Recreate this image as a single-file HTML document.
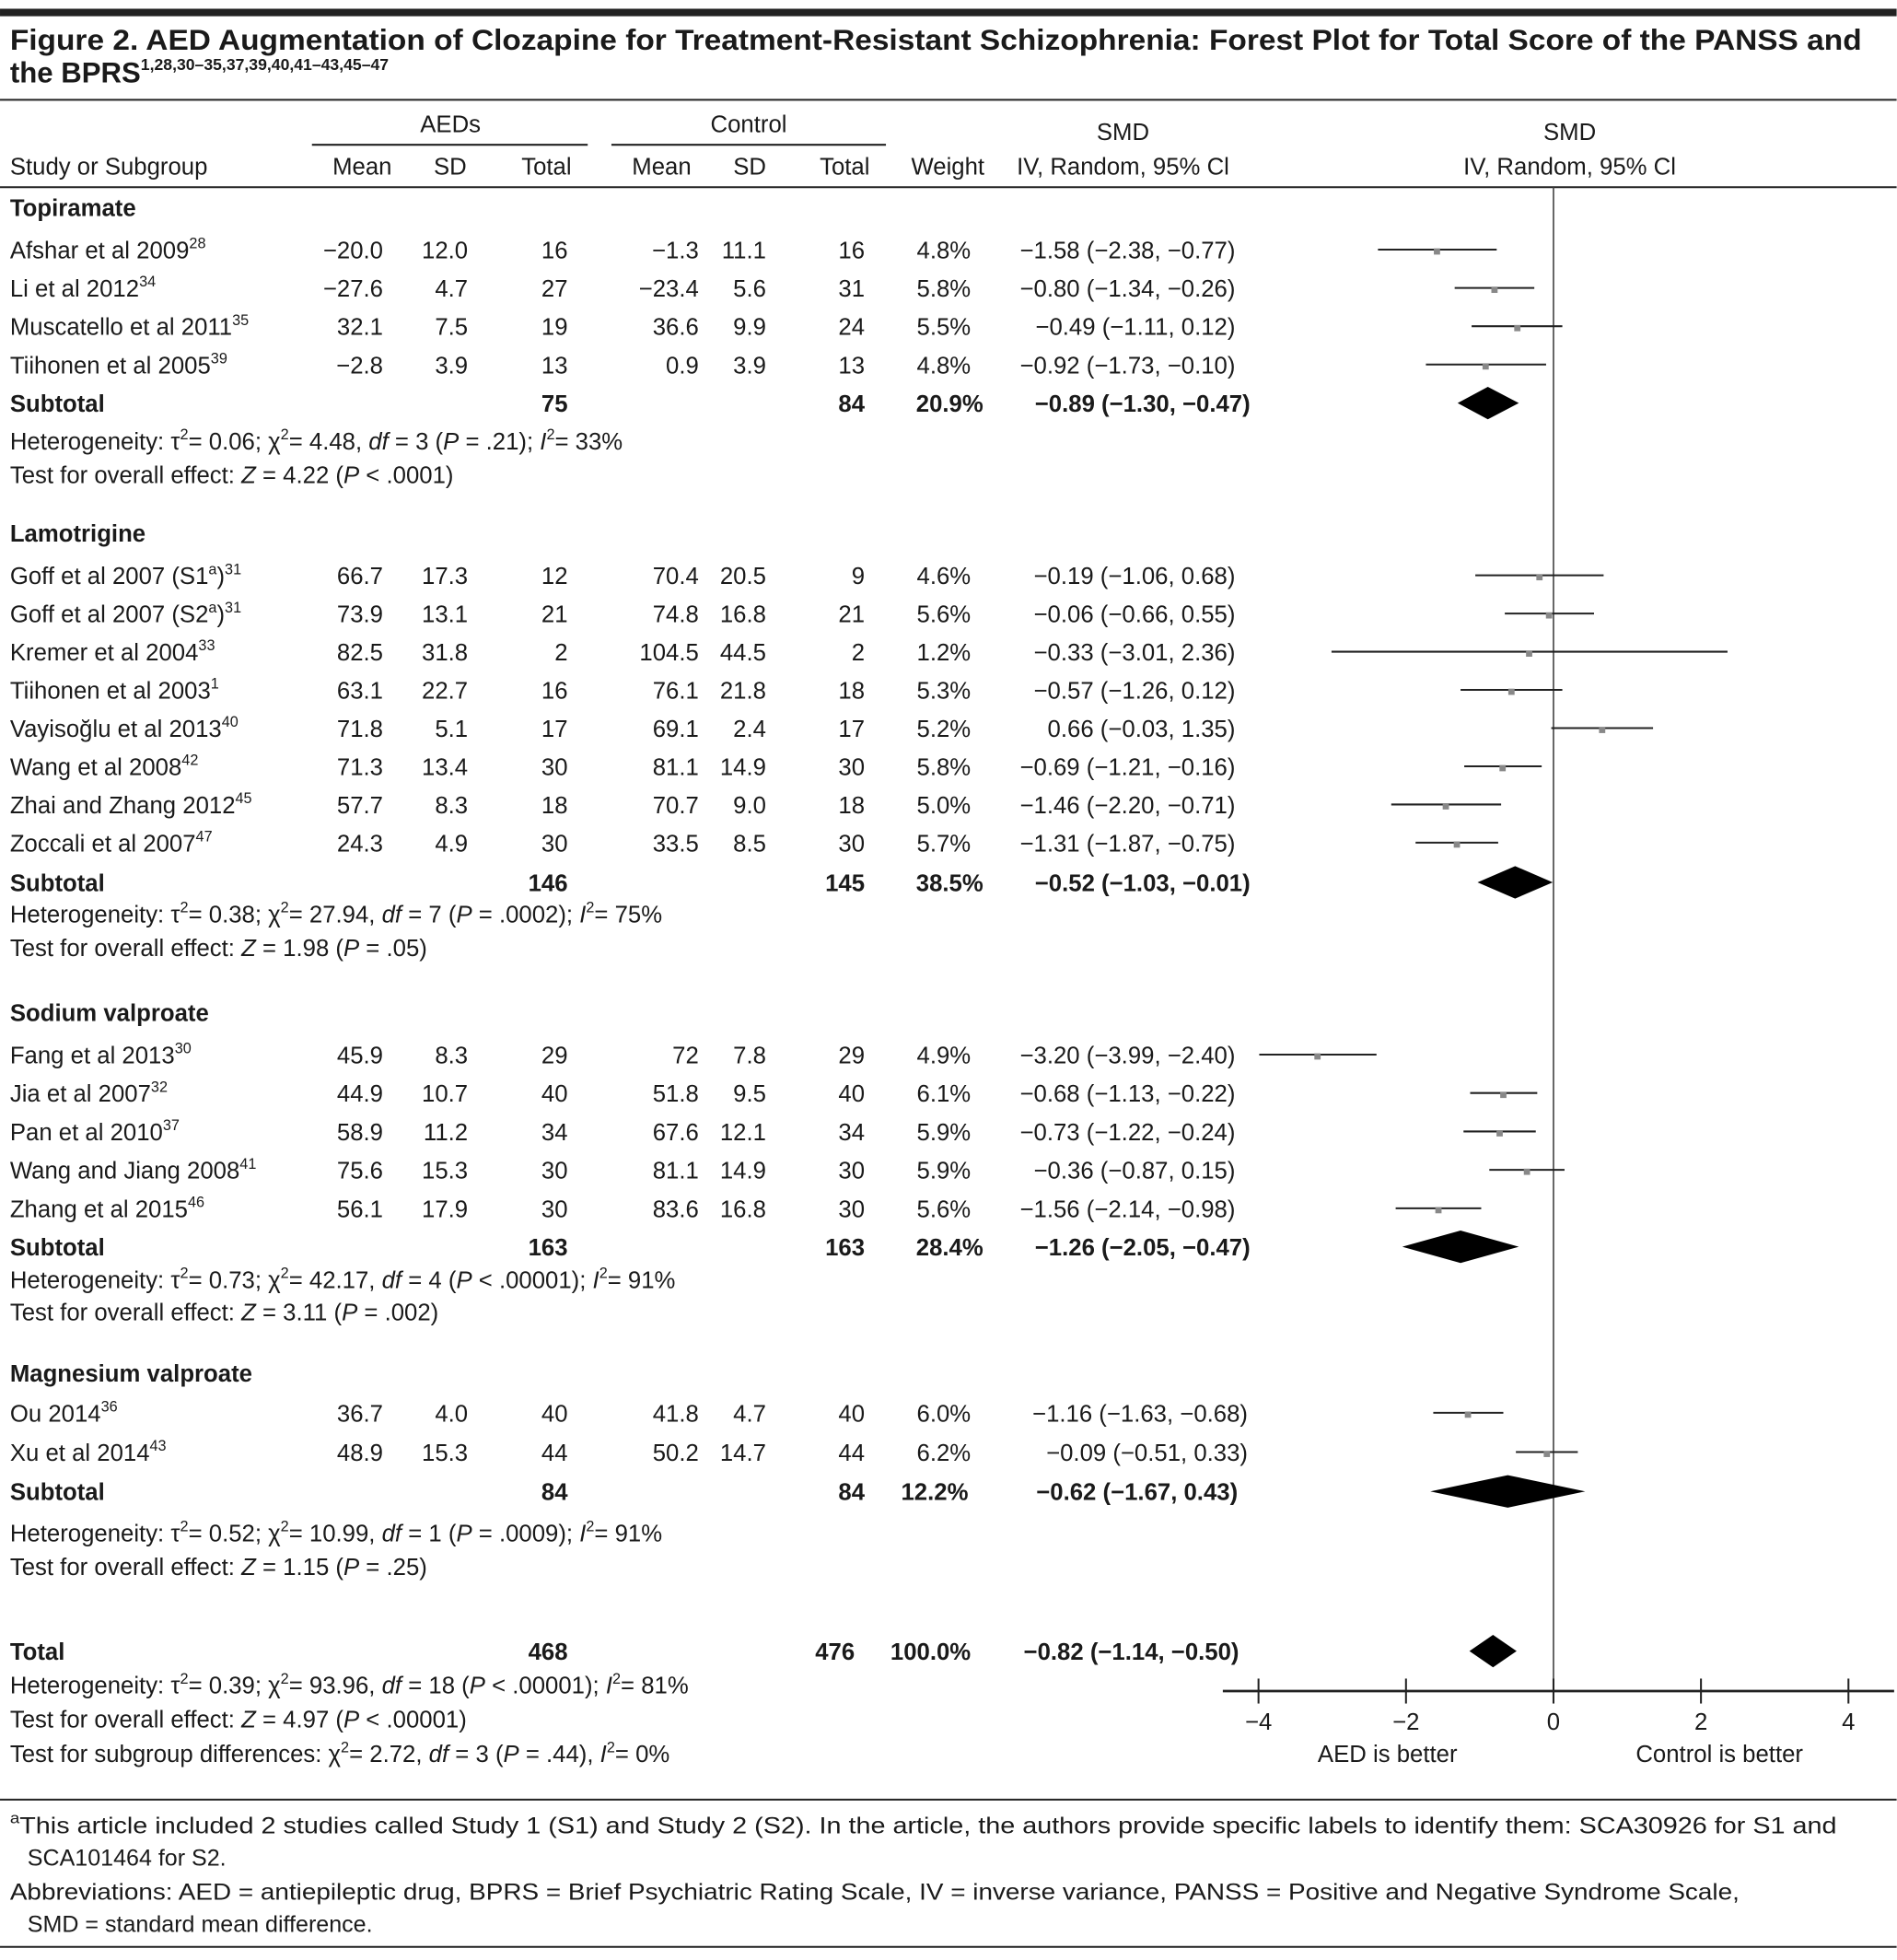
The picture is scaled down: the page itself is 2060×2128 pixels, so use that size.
<!DOCTYPE html>
<html><head><meta charset="utf-8"><style>
html,body{margin:0;padding:0;background:#fff}
svg{display:block}
text{font-family:"Liberation Sans",sans-serif;fill:#1a1a1a}
.b{font-weight:bold}
</style></head><body>
<svg id="fig" width="2060" height="2128" viewBox="0 0 1520.3 1570.5" xmlns="http://www.w3.org/2000/svg">
<rect x="0" y="7" width="1520" height="6" fill="#222"/>
<text class="b" x="8" y="40" font-size="23" textLength="1484" lengthAdjust="spacingAndGlyphs">Figure 2. AED Augmentation of Clozapine for Treatment-Resistant Schizophrenia: Forest Plot for Total Score of the PANSS and</text>
<text class="b" x="8" y="66" font-size="23">the BPRS<tspan font-size="13" dy="-10">1,28,30–35,37,39,40,41–43,45–47</tspan></text>
<line x1="0" y1="80" x2="1520" y2="80" stroke="#222" stroke-width="1.5"/>
<g font-size="19">
<text x="361" y="106" text-anchor="middle">AEDs</text>
<text x="600" y="106" text-anchor="middle">Control</text>
<line x1="250" y1="116" x2="471" y2="116" stroke="#222" stroke-width="1.5"/>
<line x1="490" y1="116" x2="710" y2="116" stroke="#222" stroke-width="1.5"/>
<text x="900" y="112" text-anchor="middle">SMD</text>
<text x="1258" y="112" text-anchor="middle">SMD</text>
<text x="8" y="140">Study or Subgroup</text>
<text x="314" y="140" text-anchor="end">Mean</text>
<text x="374" y="140" text-anchor="end">SD</text>
<text x="458" y="140" text-anchor="end">Total</text>
<text x="554" y="140" text-anchor="end">Mean</text>
<text x="614" y="140" text-anchor="end">SD</text>
<text x="697" y="140" text-anchor="end">Total</text>
<text x="789" y="140" text-anchor="end">Weight</text>
<text x="900" y="140" text-anchor="middle">IV, Random, 95% Cl</text>
<text x="1258" y="140" text-anchor="middle">IV, Random, 95% Cl</text>
</g>
<line x1="0" y1="150" x2="1520" y2="150" stroke="#222" stroke-width="1.5"/>
<g id="rows" font-size="19"></g>
<g id="plot"></g>
<g font-size="19">
<text x="8" y="360">Heterogeneity: τ<tspan font-size="12" dy="-8">2</tspan><tspan dy="8">= 0.06; χ</tspan><tspan font-size="12" dy="-8">2</tspan><tspan dy="8">= 4.48, </tspan><tspan font-style="italic">df</tspan> = 3 (<tspan font-style="italic">P</tspan> = .21); <tspan font-style="italic">I</tspan><tspan font-size="12" dy="-8">2</tspan><tspan dy="8">= 33%</tspan></text>
<text x="8" y="387">Test for overall effect: <tspan font-style="italic">Z</tspan> = 4.22 (<tspan font-style="italic">P</tspan> &lt; .0001)</text>
<text x="8" y="739">Heterogeneity: τ<tspan font-size="12" dy="-8">2</tspan><tspan dy="8">= 0.38; χ</tspan><tspan font-size="12" dy="-8">2</tspan><tspan dy="8">= 27.94, </tspan><tspan font-style="italic">df</tspan> = 7 (<tspan font-style="italic">P</tspan> = .0002); <tspan font-style="italic">I</tspan><tspan font-size="12" dy="-8">2</tspan><tspan dy="8">= 75%</tspan></text>
<text x="8" y="766">Test for overall effect: <tspan font-style="italic">Z</tspan> = 1.98 (<tspan font-style="italic">P</tspan> = .05)</text>
<text x="8" y="1032">Heterogeneity: τ<tspan font-size="12" dy="-8">2</tspan><tspan dy="8">= 0.73; χ</tspan><tspan font-size="12" dy="-8">2</tspan><tspan dy="8">= 42.17, </tspan><tspan font-style="italic">df</tspan> = 4 (<tspan font-style="italic">P</tspan> &lt; .00001); <tspan font-style="italic">I</tspan><tspan font-size="12" dy="-8">2</tspan><tspan dy="8">= 91%</tspan></text>
<text x="8" y="1058">Test for overall effect: <tspan font-style="italic">Z</tspan> = 3.11 (<tspan font-style="italic">P</tspan> = .002)</text>
<text x="8" y="1235">Heterogeneity: τ<tspan font-size="12" dy="-8">2</tspan><tspan dy="8">= 0.52; χ</tspan><tspan font-size="12" dy="-8">2</tspan><tspan dy="8">= 10.99, </tspan><tspan font-style="italic">df</tspan> = 1 (<tspan font-style="italic">P</tspan> = .0009); <tspan font-style="italic">I</tspan><tspan font-size="12" dy="-8">2</tspan><tspan dy="8">= 91%</tspan></text>
<text x="8" y="1262">Test for overall effect: <tspan font-style="italic">Z</tspan> = 1.15 (<tspan font-style="italic">P</tspan> = .25)</text>
<text x="8" y="1357">Heterogeneity: τ<tspan font-size="12" dy="-8">2</tspan><tspan dy="8">= 0.39; χ</tspan><tspan font-size="12" dy="-8">2</tspan><tspan dy="8">= 93.96, </tspan><tspan font-style="italic">df</tspan> = 18 (<tspan font-style="italic">P</tspan> &lt; .00001); <tspan font-style="italic">I</tspan><tspan font-size="12" dy="-8">2</tspan><tspan dy="8">= 81%</tspan></text>
<text x="8" y="1384">Test for overall effect: <tspan font-style="italic">Z</tspan> = 4.97 (<tspan font-style="italic">P</tspan> &lt; .00001)</text>
<text x="8" y="1412">Test for subgroup differences: χ<tspan font-size="12" dy="-8">2</tspan><tspan dy="8">= 2.72, </tspan><tspan font-style="italic">df</tspan> = 3 (<tspan font-style="italic">P</tspan> = .44), <tspan font-style="italic">I</tspan><tspan font-size="12" dy="-8">2</tspan><tspan dy="8">= 0%</tspan></text>
</g>
<line x1="0" y1="1442" x2="1520" y2="1442" stroke="#222" stroke-width="1.5"/>
<g font-size="18.5">
<text x="8" y="1469" textLength="1464" lengthAdjust="spacingAndGlyphs"><tspan font-size="12" dy="-8">a</tspan><tspan dy="8">This article included 2 studies called Study 1 (S1) and Study 2 (S2). In the article, the authors provide specific labels to identify them: SCA30926 for S1 and</tspan></text>
<text x="22" y="1495">SCA101464 for S2.</text>
<text x="8" y="1522" textLength="1386" lengthAdjust="spacingAndGlyphs">Abbreviations: AED = antiepileptic drug, BPRS = Brief Psychiatric Rating Scale, IV = inverse variance, PANSS = Positive and Negative Syndrome Scale,</text>
<text x="22" y="1548">SMD = standard mean difference.</text>
</g>
<line x1="0" y1="1560" x2="1520" y2="1560" stroke="#222" stroke-width="1.5"/>
</svg>
<script>
// ---- data ----
const groups = ["Topiramate","Lamotrigine","Sodium valproate","Magnesium valproate"];
const studyNames = ["Afshar et al 2009","Li et al 2012","Muscatello et al 2011","Tiihonen et al 2005",
 "Goff et al 2007 (S1","Goff et al 2007 (S2","Kremer et al 2004","Tiihonen et al 2003","Vayisoğlu et al 2013","Wang et al 2008","Zhai and Zhang 2012","Zoccali et al 2007",
 "Fang et al 2013","Jia et al 2007","Pan et al 2010","Wang and Jiang 2008","Zhang et al 2015",
 "Ou 2014","Xu et al 2014"];
const studyNote = ["","","","","a","a","","","","","","","","","","","","",""];
const studyRefs = ["28","34","35","39","31","31","33","1","40","42","45","47","30","32","37","41","46","36","43"];
const studyGroup = [0,0,0,0,1,1,1,1,1,1,1,1,2,2,2,2,2,3,3];
const aedMean = ["−20.0","−27.6","32.1","−2.8","66.7","73.9","82.5","63.1","71.8","71.3","57.7","24.3","45.9","44.9","58.9","75.6","56.1","36.7","48.9"];
const aedSD = ["12.0","4.7","7.5","3.9","17.3","13.1","31.8","22.7","5.1","13.4","8.3","4.9","8.3","10.7","11.2","15.3","17.9","4.0","15.3"];
const aedN = [16,27,19,13,12,21,2,16,17,30,18,30,29,40,34,30,30,40,44];
const ctlMean = ["−1.3","−23.4","36.6","0.9","70.4","74.8","104.5","76.1","69.1","81.1","70.7","33.5","72","51.8","67.6","81.1","83.6","41.8","50.2"];
const ctlSD = ["11.1","5.6","9.9","3.9","20.5","16.8","44.5","21.8","2.4","14.9","9.0","8.5","7.8","9.5","12.1","14.9","16.8","4.7","14.7"];
const ctlN = [16,31,24,13,9,21,2,18,17,30,18,30,29,40,34,30,30,40,44];
const weight = [4.8,5.8,5.5,4.8,4.6,5.6,1.2,5.3,5.2,5.8,5.0,5.7,4.9,6.1,5.9,5.9,5.6,6.0,6.2];
const smd = [-1.58,-0.80,-0.49,-0.92,-0.19,-0.06,-0.33,-0.57,0.66,-0.69,-1.46,-1.31,-3.20,-0.68,-0.73,-0.36,-1.56,-1.16,-0.09];
const ciLo = [-2.38,-1.34,-1.11,-1.73,-1.06,-0.66,-3.01,-1.26,-0.03,-1.21,-2.20,-1.87,-3.99,-1.13,-1.22,-0.87,-2.14,-1.63,-0.51];
const ciHi = [-0.77,-0.26,0.12,-0.10,0.68,0.55,2.36,0.12,1.35,-0.16,-0.71,-0.75,-2.40,-0.22,-0.24,0.15,-0.98,-0.68,0.33];
const subAedN = [75,146,163,84];
const subCtlN = [84,145,163,84];
const subWeight = [20.9,38.5,28.4,12.2];
const subSmd = [-0.89,-0.52,-1.26,-0.62];
const subLo = [-1.30,-1.03,-2.05,-1.67];
const subHi = [-0.47,-0.01,-0.47,0.43];
const totAedN = 468, totCtlN = 476, totSmd = -0.82, totLo = -1.14, totHi = -0.50;
const ticks = [-4,-2,0,2,4];

// ---- layout ----
const NS="http://www.w3.org/2000/svg";
const rowsG=document.getElementById('rows'), plotG=document.getElementById('plot');
const x = v => 1245 + v*59.1;
const groupY=[173,434,818,1107];
const firstStudyY=[207,468,852,1139];
const subY=[330,714,1006,1202];
const rowH=[30.7,30.6,30.8,31.5];
const totalY=1330, axisY=1355;
function mk(tag,attrs,parent,txt){const e=document.createElementNS(NS,tag);for(const k in attrs)e.setAttribute(k,attrs[k]);if(txt!==undefined)e.textContent=txt;parent.appendChild(e);return e;}
function fmt(v){return (v<0?'−':'')+Math.abs(v).toFixed(2);}
function ciText(e,l,h){return fmt(e)+' ('+fmt(l)+', '+fmt(h)+')';}

const zl=mk('line',{x1:x(0),y1:150,x2:x(0),y2:axisY,stroke:'#444','stroke-width':1.2},plotG);



groups.forEach((g,gi)=>{
  const t=mk('text',{x:8,y:groupY[gi],class:'b'},rowsG,g);
  
  
});
let counters=[0,0,0,0];
studyNames.forEach((n,i)=>{
  const gi=studyGroup[i]; const y=firstStudyY[gi]+rowH[gi]*counters[gi]; counters[gi]++;
  const row=mk('g',{},rowsG);
  
  
  const nt=mk('text',{x:8,y:y},row,n);
  if(studyNote[i]){
    mk('tspan',{'font-size':12,dy:-8},nt,studyNote[i]);
    mk('tspan',{dy:8},nt,')');
  }
  mk('tspan',{'font-size':12,dy:-8},nt,studyRefs[i]);
  mk('text',{x:307,y:y,'text-anchor':'end'},row,aedMean[i]);
  mk('text',{x:375,y:y,'text-anchor':'end'},row,aedSD[i]);
  mk('text',{x:455,y:y,'text-anchor':'end'},row,aedN[i]);
  mk('text',{x:560,y:y,'text-anchor':'end'},row,ctlMean[i]);
  mk('text',{x:614,y:y,'text-anchor':'end'},row,ctlSD[i]);
  mk('text',{x:693,y:y,'text-anchor':'end'},row,ctlN[i]);
  mk('text',{x:778,y:y,'text-anchor':'end'},row,weight[i].toFixed(1)+'%');
  mk('text',{x:gi===3?1000:990,y:y,'text-anchor':'end'},row,ciText(smd[i],ciLo[i],ciHi[i]));
  const py=y-7;
  const ln=mk('line',{x1:x(ciLo[i]),y1:py,x2:x(ciHi[i]),y2:py,stroke:'#222','stroke-width':1.5},plotG);
  
  
  const sq=mk('rect',{x:x(smd[i])-2.5,y:py-1,width:5,height:5,fill:'#888'},plotG);
  
  
});
function diamond(e,l,h,y,name){
  const d=mk('polygon',{points:`${x(l)},${y} ${x(e)},${y-13} ${x(h)},${y} ${x(e)},${y+13}`,fill:'#000'},plotG);
  
  
}
groups.forEach((g,gi)=>{
  const y=subY[gi];
  const row=mk('g',{class:'b'},rowsG);
  
  
  mk('text',{x:8,y:y},row,'Subtotal');
  mk('text',{x:455,y:y,'text-anchor':'end'},row,subAedN[gi]);
  mk('text',{x:693,y:y,'text-anchor':'end'},row,subCtlN[gi]);
  mk('text',{x:gi===3?776:788,y:y,'text-anchor':'end'},row,subWeight[gi].toFixed(1)+'%');
  mk('text',{x:gi===3?992:1002,y:y,'text-anchor':'end'},row,ciText(subSmd[gi],subLo[gi],subHi[gi]));
  diamond(subSmd[gi],subLo[gi],subHi[gi],y-7,'subtotal-diamond');
});
const tr=mk('g',{class:'b'},rowsG);


mk('text',{x:8,y:totalY},tr,'Total');
mk('text',{x:455,y:totalY,'text-anchor':'end'},tr,totAedN);
mk('text',{x:685,y:totalY,'text-anchor':'end'},tr,totCtlN);
mk('text',{x:778,y:totalY,'text-anchor':'end'},tr,'100.0%');
mk('text',{x:993,y:totalY,'text-anchor':'end'},tr,ciText(totSmd,totLo,totHi));
diamond(totSmd,totLo,totHi,totalY-7,'total-diamond');

const ax=mk('line',{x1:980,y1:axisY,x2:1518,y2:axisY,stroke:'#222','stroke-width':2},plotG);


ticks.forEach(t=>{
  const tk=mk('line',{x1:x(t),y1:axisY-10,x2:x(t),y2:axisY+10,stroke:'#222','stroke-width':1.5},plotG);
  
  
  const lb=mk('text',{x:x(t),y:axisY+31,'text-anchor':'middle','font-size':19},plotG,t<0?'−'+Math.abs(t):String(t));
  
  
});
const l1=mk('text',{x:1112,y:1412,'text-anchor':'middle','font-size':19},plotG,'AED is better');


const l2=mk('text',{x:1378,y:1412,'text-anchor':'middle','font-size':19},plotG,'Control is better');


</script>
</body></html>
